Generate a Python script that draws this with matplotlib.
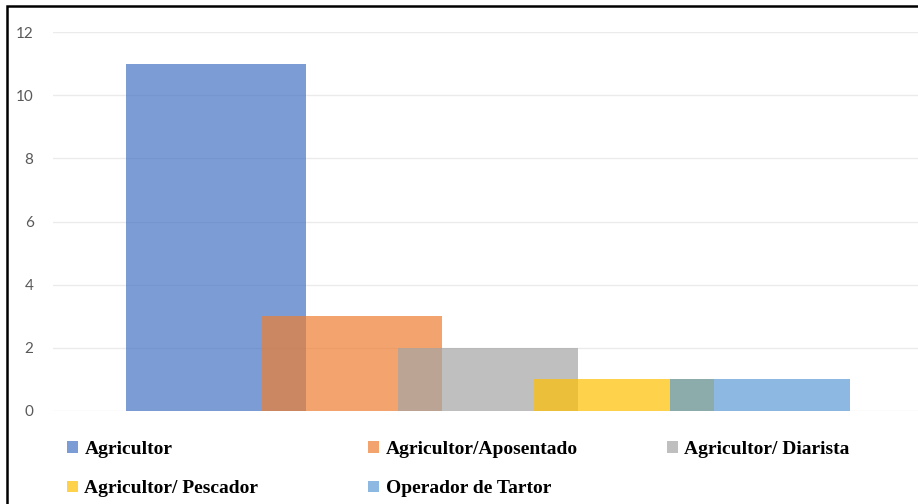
import matplotlib
matplotlib.use("Agg")
import matplotlib.pyplot as plt
from matplotlib.patches import Rectangle, Patch

# data
categories = ["Agricultor", "Agricultor/Aposentado", "Agricultor/ Diarista",
              "Agricultor/ Pescador", "Operador de Tartor"]
counts = [11, 3, 2, 1, 1]
colors = ["#4472C4", "#ED7D31", "#A5A5A5", "#FFC000", "#5B9BD5"]
yticks = [0, 2, 4, 6, 8, 10, 12]

fig = plt.figure(figsize=(9.18, 5.04), dpi=100)
ax = fig.add_axes([53 / 918, 93 / 504, 1 - 53 / 918, 379 / 504])

# wide overlapping bars, drawn one by one so the overlaps blend
for i, (c, v) in enumerate(zip(colors, counts)):
    ax.bar(i, v, width=180 / 136, color=c, alpha=0.7, zorder=2, linewidth=0)

ax.set_xlim((53 - 216) / 136, (918 - 216) / 136)
ax.set_ylim(0, 12)
ax.set_yticks(yticks)
ax.set_xticks([])
ax.grid(axis="y", color="#EBEBEB", linewidth=1, zorder=0)
ax.tick_params(axis="y", length=0, pad=14, labelsize=11, labelcolor="#595959")
for lab in ax.get_yticklabels():
    lab.set_fontfamily("Lato")
for s in ax.spines.values():
    s.set_visible(False)

# legend: three columns at fixed spots, like the office chart
handles = [Patch(facecolor=c, alpha=0.7, edgecolor="none") for c in colors]
col_x = [67 / 918, 368 / 918, 667 / 918]
font = {"family": "Liberation Serif", "weight": "bold", "size": 14}
for col in range(3):
    idx = [k for k in range(col, len(categories), 3)]
    fig.legend([handles[k] for k in idx], [categories[k] for k in idx],
               loc="upper left", bbox_to_anchor=(col_x[col], 1 - 441 / 504),
               frameon=False, prop=font, handlelength=0.55, handleheight=0.55,
               handletextpad=0.35, labelspacing=1.15, borderpad=0, borderaxespad=0)

# black frame, only top and left show in the crop
fig.add_artist(Rectangle((6.5 / 918, -0.1), 1.2, 1 - 6.5 / 504 + 0.1,
                         transform=fig.transFigure, fill=False,
                         edgecolor="black", linewidth=1.8, clip_on=False))

fig.savefig("out.png", dpi=100)
